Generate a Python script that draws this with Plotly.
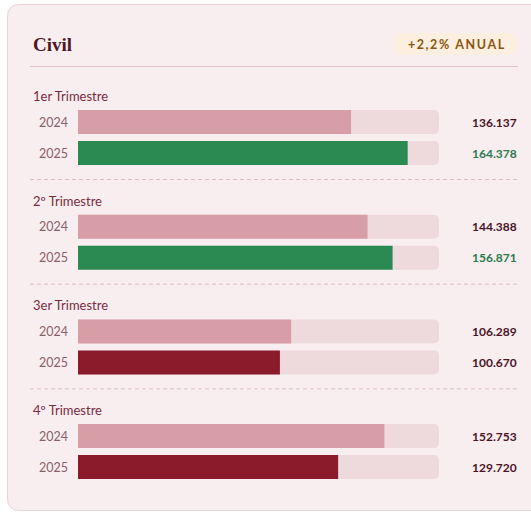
import plotly.graph_objects as go

# ---- data ----
title = "Civil"
badge = "+2,2% ANUAL"
quarters = ["1er Trimestre", "2º Trimestre", "3er Trimestre", "4º Trimestre"]
years = ["2024", "2025"]
values_2024 = [136137, 144388, 106289, 152753]
values_2025 = [164378, 156871, 100670, 129720]
scale_max = 180000

# ---- style ----
W, H = 531, 512
C_2024 = "#d89ea8"
C_UP = "#2b8a52"
C_DOWN = "#8b1a2b"
C_TRACK = "#eed9dd"
C_CARD = "#f8eef0"
FONT = "Lato"

# layout geometry (pixels)
group_top0 = 96
group_step = 104.7
bar_off = [26, 57]
bar_h = 24

def fmt(v):
    return f"{v:,}".replace(",", ".")

fig = go.Figure()

# invisible trace to activate pixel axis x (drawn first, underneath)
fig.add_trace(go.Scatter(x=[0], y=[0], xaxis="x", yaxis="y", mode="markers",
                         marker=dict(opacity=0), hoverinfo="skip", showlegend=False))

ys_2024 = [group_top0 + i * group_step + bar_off[0] for i in range(len(quarters))]
ys_2025 = [group_top0 + i * group_step + bar_off[1] for i in range(len(quarters))]

# tracks
fig.add_trace(go.Bar(x=[scale_max] * 8, y=ys_2024 + ys_2025, orientation="h",
                     xaxis="x2", yaxis="y",
                     width=bar_h, marker=dict(color=C_TRACK, line=dict(width=0)),
                     hoverinfo="skip", showlegend=False))
fig.add_trace(go.Bar(x=values_2024, y=ys_2024, orientation="h", width=bar_h,
                     xaxis="x2", yaxis="y",
                     marker=dict(color=C_2024, line=dict(width=0)),
                     name="2024", showlegend=False))
cols_2025 = [C_UP if b >= a else C_DOWN for a, b in zip(values_2024, values_2025)]
fig.add_trace(go.Bar(x=values_2025, y=ys_2025, orientation="h", width=bar_h,
                     xaxis="x2", yaxis="y",
                     marker=dict(color=cols_2025, line=dict(width=0)),
                     name="2025", showlegend=False))

shapes = []
# card (rounded rect)
x0, y0, x1, y1, r = 7.5, 4.5, 545, 510.5, 12
path = (f"M{x0+r},{y0} L{x1-r},{y0} Q{x1},{y0} {x1},{y0+r} L{x1},{y1-r} Q{x1},{y1} {x1-r},{y1} "
        f"L{x0+r},{y1} Q{x0},{y1} {x0},{y1-r} L{x0},{y0+r} Q{x0},{y0} {x0+r},{y0} Z")
shapes.append(dict(type="path", path=path, xref="x", yref="y", fillcolor=C_CARD,
                   line=dict(color="#ead3d8", width=1), layer="below"))
# badge pill
bx0, by0, bx1, by1, br = 393, 33, 518, 55, 11
bpath = (f"M{bx0+br},{by0} L{bx1-br},{by0} Q{bx1},{by0} {bx1},{by0+br} Q{bx1},{by1} {bx1-br},{by1} "
         f"L{bx0+br},{by1} Q{bx0},{by1} {bx0},{by0+br} Q{bx0},{by0} {bx0+br},{by0} Z")
shapes.append(dict(type="path", path=bpath, xref="x", yref="y", fillcolor="#fcefdf",
                   line=dict(width=0), layer="below"))
# header line
shapes.append(dict(type="line", x0=30, x1=518, y0=66.5, y1=66.5, xref="x", yref="y",
                   line=dict(color="#e2c3ca", width=1.2), layer="below"))
# dashed separators
for i in range(len(quarters) - 1):
    yy = group_top0 + i * group_step + 83.5
    shapes.append(dict(type="line", x0=30, x1=519, y0=yy, y1=yy, xref="x", yref="y",
                       line=dict(color="#dcbfc6", width=1, dash="4px,3px"), layer="below"))

ann = []
ann.append(dict(x=31, y=44, xref="x", yref="y", text=f"<b>{title}</b>", showarrow=False,
                xanchor="left", yanchor="middle",
                font=dict(family="Liberation Serif", size=19, color="#4f1626")))
ann.append(dict(x=456, y=44, xref="x", yref="y", text="<b>" + "\u2009".join(badge) + "</b>",
                showarrow=False, xanchor="center", yanchor="middle",
                font=dict(family=FONT, size=12.5, color="#8a5512")))
for i, q in enumerate(quarters):
    gy = group_top0 + i * group_step
    ann.append(dict(x=31, y=gy, xref="x", yref="y", text=q, showarrow=False,
                    xanchor="left", yanchor="middle",
                    font=dict(family=FONT, size=13, color="#7a2c3e")))
    for yv, yr, val, vc in [(ys_2024[i], years[0], values_2024[i], "#4a1426"),
                            (ys_2025[i], years[1], values_2025[i],
                             "#2b7a4e" if cols_2025[i] == C_UP else "#4a1426")]:
        ann.append(dict(x=70, y=yv, xref="x", yref="y", text=yr, showarrow=False,
                        xanchor="right", yanchor="middle",
                        font=dict(family=FONT, size=12.5, color="#8a6068")))
        ann.append(dict(x=519, y=yv, xref="x", yref="y", text=f"<b>{fmt(val)}</b>",
                        showarrow=False, xanchor="right", yanchor="middle",
                        font=dict(family=FONT, size=12, color=vc)))

fig.update_layout(
    width=W, height=H, margin=dict(l=0, r=0, t=0, b=0),
    paper_bgcolor="white", plot_bgcolor="rgba(0,0,0,0)",
    barmode="overlay", barcornerradius=5,
    xaxis=dict(domain=[0, 1], range=[0, W], visible=False, fixedrange=True, anchor="y"),
    xaxis2=dict(domain=[78 / W, 439 / W], range=[0, scale_max], visible=False,
                fixedrange=True, anchor="y"),
    yaxis=dict(domain=[0, 1], range=[H, 0], visible=False, fixedrange=True),
    shapes=shapes, annotations=ann, showlegend=False,
)

fig.write_html("out.html", config={"displayModeBar": False},
               post_script="document.body.style.margin='0';document.body.style.overflow='hidden';")
